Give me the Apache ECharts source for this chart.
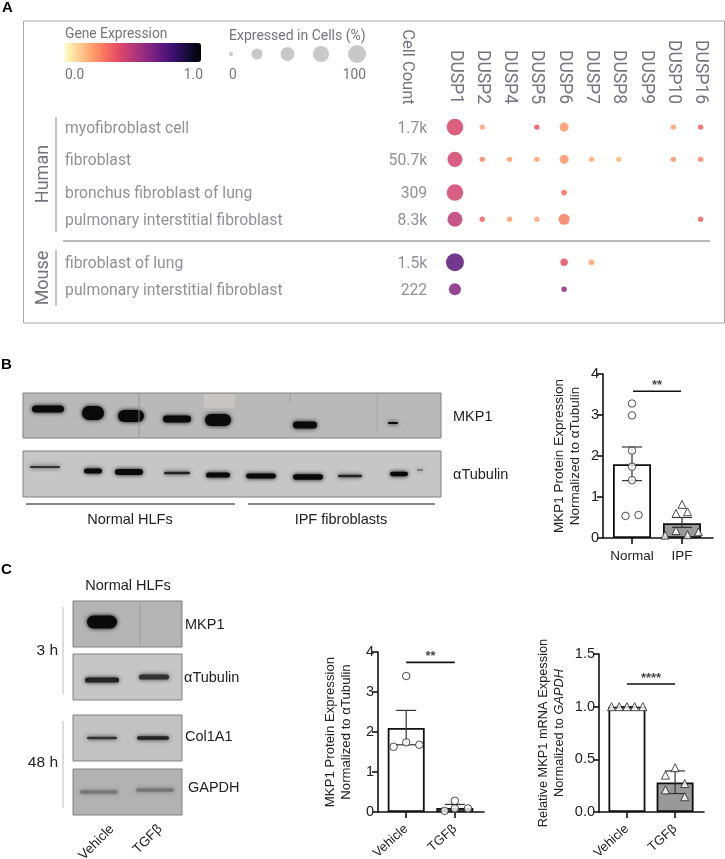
<!DOCTYPE html>
<html><head><meta charset="utf-8">
<style>html,body{margin:0;padding:0;background:#fff}#c{position:absolute;left:0;top:0;width:725px;height:859px}</style>
<script src="https://cdn.jsdelivr.net/npm/echarts@6/dist/echarts.min.js"></script></head>
<body><div id="c"></div>
<script>
// ---------- Panel A data ----------
const genes = ['DUSP1','DUSP2','DUSP4','DUSP5','DUSP6','DUSP7','DUSP8','DUSP9','DUSP10','DUSP16'];
const rowNames = ['myofibroblast cell','fibroblast','bronchus fibroblast of lung','pulmonary interstitial fibroblast','fibroblast of lung','pulmonary interstitial fibroblast'];
const cellCounts = ['1.7k','50.7k','309','8.3k','1.5k','222'];
const rowSlots = [0,1.05,2.13,3.0,4.4,5.28];
const expression = [
 [.42,.2,null,.37,.22,null,null,null,.2,.33],
 [.43,.25,.2,.2,.22,.18,.15,null,.22,.25],
 [.43,null,null,null,.3,null,null,null,null,null],
 [.48,.33,.2,.17,.27,null,null,null,null,.33],
 [.72,null,null,null,.38,.2,null,null,null,null],
 [.62,null,null,null,.6,null,null,null,null,null]];
const expressedPct = [
 [81,1,null,1,13,null,null,null,1,1],
 [62,1,1,1,13,1,1,null,1,1],
 [81,null,null,null,1.5,null,null,null,null,null],
 [62,1,1,1,25,null,null,null,null,1],
 [100,null,null,null,6,1.5,null,null,null,null],
 [33,null,null,null,1,null,null,null,null,null]];
const sizeLegendPct = [0,25,50,75,100];
const magma = ['#fcfdbf','#fecf92','#fe9f6d','#f7705c','#de4968','#b73779','#8c2981','#641a80','#3b0f70','#140e36','#000004'];

// ---------- Bar panels data ----------
const catsB = ['Normal','IPF'];
const meansB = [1.8,0.36];
const errLowB = [1.4,0.26];
const errHighB = [2.22,0.5];
const ptsNormalB = [[0,3.28],[0,2.99],[0,2.13],[0,1.74],[0,1.41],[-.13,.54],[.13,.56]];
const ptsIpfB = [[1,.82],[.88,.6],[1.11,.64],[.88,.18],[.66,.07],[1.11,.08],[1.33,.15]];
const catsC = ['Vehicle','TGFβ'];
const meansC1 = [2.1,0.1];
const errLowC1 = [1.68,0.03];
const errHighC1 = [2.54,0.19];
const ptsVehC1 = [[0,3.4],[0,1.74],[-.26,1.63],[.27,1.68]];
const ptsTgfC1 = [[1,.28],[1,.09],[.79,.03],[1.27,.09]];
const meansC2 = [1.0,0.28];
const errLowC2 = [1.0,0.175];
const errHighC2 = [1.0,0.39];
const ptsVehC2 = [[-.32,1],[-.16,1],[0,1],[.16,1],[.33,1]];
const ptsTgfC2 = [[1,.42],[.8,.35],[1.2,.27],[.8,.21],[1.2,.145]];

// ---------- helpers ----------
const sizeOf = p => 4 + 14*Math.sqrt(p/100);
const SANS = '"Liberation Sans", Arial, sans-serif';
const UI = 'Roboto, sans-serif';
const GREY = '#74747d';
const chart = echarts.init(document.getElementById('c'), null, {renderer:'canvas'});

const g = [];
const txt = (text,x,y,font,fill,align,rot) => g.push({type:'text',x,y,rotation:rot||0,z:10,
  style:{text,font,fill:fill||'#222',textAlign:align||'left',textVerticalAlign:'middle'}});
const ln = (x1,y1,x2,y2,stroke,w) => g.push({type:'line',z:5,shape:{x1,y1,x2,y2},style:{stroke,lineWidth:w||1}});
const blot = (x,y,w,h,fill) => g.push({type:'rect',z:1,shape:{x,y,width:w,height:h},style:{fill,stroke:'#808080',lineWidth:1}});
const band = (cx,cy,rx,ry,col) => g.push({type:'rect',z:2,shape:{x:cx-rx,y:cy-ry,width:2*rx,height:2*ry,r:Math.min(rx,ry*1.2)},
  style:{fill:col||'#0a0a0a',shadowBlur:4,shadowColor:col||'#0a0a0a'}});

// panel letters
txt('A',2,8,'bold 15px '+SANS,'#000');
txt('B',1,365,'bold 15px '+SANS,'#000');
txt('C',1,570,'bold 15px '+SANS,'#000');

// Panel A frame & furniture
g.push({type:'rect',z:0,shape:{x:23.5,y:21,width:701,height:302},style:{fill:'#fff',stroke:'#aaa',lineWidth:1}});
txt('Gene Expression',65,35,'13.8px '+UI,GREY);
txt('Expressed in Cells (%)',229,36,'14px '+UI,GREY);
txt('0.0',65,76,'13.8px '+UI,GREY);
txt('1.0',203,76,'13.8px '+UI,GREY,'right');
txt('0',229,76,'13.8px '+UI,GREY);
txt('100',366,76,'13.8px '+UI,GREY,'right');
[231,257,287.5,321,357].forEach((x,i)=>g.push({type:'circle',z:3,shape:{cx:x,cy:54,r:sizeOf(sizeLegendPct[i])/2},style:{fill:'#c8c8c8'}}));
txt('Cell Count',407,67,'16.5px '+UI,GREY,'center',-Math.PI/2);
txt('Human',43,174,'18px '+UI,GREY,'center',Math.PI/2);
txt('Mouse',43,278,'18px '+UI,GREY,'center',Math.PI/2);
ln(56,117,56,232,'#888',1); ln(56,250,56,306,'#888',1); ln(63,241,710,241,'#777',1);

// Panel B blots
blot(23,393,418,45,'#b9b9b9'); blot(23,451,418,46,'#c6c6c6');
g.push({type:'rect',z:1,shape:{x:204,y:394,width:31,height:14},style:{fill:'#c9c4c4'}});
ln(139,394,139,437,'#8a8a8a',.8); ln(377,396,377,432,'#a0a0a0',.8); ln(290,394,290,402,'#999',1);
[[48,409,16,3.6],[93,413,11,7],[131,416,13,6],[177,419,14,3.5],[218,420,13,6],[305,425,12,3.4],[393,423,5,1]].forEach(b=>band(...b));
[[45,467,15,.9,'#333'],[93,471,9,2.5],[129,472,14,3],[177,473,13,1.2,'#222'],[218,475,12,2.6],[261,476,15,2.4],[308,477,15,2.8],[350,476,12,1.2,'#222'],[399,474,9,2.2],[420,470,3,.6,'#444']].forEach(b=>band(...b));
ln(26,504,235,504,'#111',1); ln(248,504,435,504,'#111',1);
txt('Normal HLFs',130,520,'14.5px '+SANS,'#222','center');
txt('IPF fibroblasts',341,520,'14.5px '+SANS,'#222','center');
txt('MKP1',453,417,'14.5px '+SANS); txt('αTubulin',453,475,'14.5px '+SANS);

// Panel C blots
blot(73,601,109,46,'#b4b4b4'); blot(73,654,109,46,'#c6c6c6'); blot(73,715,109,46,'#c2c2c2'); blot(73,769,109,46,'#b2b2b2');
ln(140,602,140,646,'#999',.8);
band(102,622,15,6.5);
band(102,680,17,2.6,'#222'); band(154,677,15,2.6,'#333');
band(102,738,15,1.3,'#333'); band(153,738,16,1.8,'#222');
band(99,792,19,1.8,'#777'); band(155,790,19,1.8,'#777');
ln(63,607,63,694,'#bbb',1); ln(63,721,63,808,'#bbb',1);
txt('Normal HLFs',128,586,'14.5px '+SANS,'#222','center');
txt('3 h',58,651,'15.5px '+SANS,'#222','right'); txt('48 h',58,763,'15.5px '+SANS,'#222','right');
txt('MKP1',185,625,'14.5px '+SANS); txt('αTubulin',184,678,'14.5px '+SANS);
txt('Col1A1',185,737,'14.5px '+SANS); txt('GAPDH',188,788,'14.5px '+SANS);
txt('Vehicle',112,827,'13.5px '+SANS,'#222','right',Math.PI/4);
txt('TGFβ',160,827,'13.5px '+SANS,'#222','right',Math.PI/4);

// ---------- cartesian layout ----------
const grids=[{left:45.5,width:671.5,top:105,height:215,outerBoundsMode:'none'}];
const xAxes=[{type:'value',gridIndex:0,min:-15,max:9.6,position:'top',
  axisLine:{show:false},axisTick:{show:false},splitLine:{show:false},
  axisLabel:{customValues:genes.map((_,i)=>i),formatter:v=>genes[v]||'',rotate:-90,margin:1,color:GREY,fontSize:17.5,fontFamily:UI}}];
const yAxes=[{type:'value',gridIndex:0,min:-.72,max:6.28,inverse:true,show:false}];
const dots=[];
expression.forEach((r,i)=>r.forEach((v,j)=>{ if(v!=null) dots.push([j,rowSlots[i],v,expressedPct[i][j]]); }));
const ghost={color:'rgba(0,0,0,0)',borderWidth:0};
const series=[
 {type:'scatter',xAxisIndex:0,yAxisIndex:0,data:dots,symbolSize:d=>sizeOf(d[3]),encode:{x:0,y:1},itemStyle:{opacity:.86}},
 {type:'scatter',xAxisIndex:0,yAxisIndex:0,symbolSize:1,itemStyle:ghost,silent:true,
  data:rowNames.map((n,i)=>({value:[-14.3,rowSlots[i]],name:n})),
  label:{show:true,position:'right',distance:0,offset:[0,1.5],formatter:p=>p.name,color:GREY,fontFamily:UI,fontSize:15.7}},
 {type:'scatter',xAxisIndex:0,yAxisIndex:0,symbolSize:1,itemStyle:ghost,silent:true,
  data:cellCounts.map((n,i)=>({value:[-1,rowSlots[i]],name:n})),
  label:{show:true,position:'left',distance:0,offset:[0,1.5],formatter:p=>p.name,color:GREY,fontFamily:UI,fontSize:15.7}}
];

function barPanel(c){
  const gi=grids.length;
  grids.push({left:c.left,width:c.width,top:c.top,height:c.height,outerBoundsMode:'none'});
  xAxes.push({type:'value',gridIndex:gi,min:c.xmin,max:c.xmax,splitLine:{show:false},
    axisLine:{onZero:false,lineStyle:{color:'#111',width:1.6}},
    axisTick:{customValues:[0,1],length:6,lineStyle:{color:'#111',width:1.6}},
    axisLabel:{customValues:[0,1],formatter:v=>c.cats[v],rotate:c.rotate||0,margin:c.rotate?15:11,color:'#222',fontSize:c.rotate?13:13.5,fontFamily:SANS,hideOverlap:false,showMinLabel:true,showMaxLabel:true}});
  yAxes.push({type:'value',gridIndex:gi,min:0,max:c.ymax,interval:c.step,splitLine:{show:false},
    name:c.title,nameLocation:'middle',nameRotate:90,nameGap:c.gap,
    nameTextStyle:c.rich?{rich:c.rich,lineHeight:16}:{color:'#222',fontSize:c.fs||13.5,fontFamily:SANS,lineHeight:16},
    axisLine:{show:true,onZero:false,lineStyle:{color:'#111',width:1.6}},
    axisTick:{show:true,length:6,lineStyle:{color:'#111',width:1.6}},
    axisLabel:{margin:4,color:'#222',fontSize:14.5,fontFamily:SANS,formatter:c.fmt||(v=>String(v))}});
  series.push({type:'bar',xAxisIndex:gi,yAxisIndex:gi,barWidth:c.barW,z:2,
    data:c.means.map((m,i)=>({value:[i,m],itemStyle:{color:i?'#999':'#fff',borderColor:'#111',borderWidth:1.8}}))});
  series.push({type:'custom',xAxisIndex:gi,yAxisIndex:gi,z:3,silent:true,
    data:c.means.map((_,i)=>[i,c.lo[i],c.hi[i]]),
    encode:{x:0,y:[1,2]},
    renderItem:(p,api)=>{
      const x=api.value(0),a=api.coord([x,api.value(1)]),b=api.coord([x,api.value(2)]);
      const s={stroke:'#333',lineWidth:1.2,fill:null},h=10;
      return {type:'group',children:[
        {type:'line',shape:{x1:a[0],y1:a[1],x2:b[0],y2:b[1]},style:s},
        {type:'line',shape:{x1:a[0]-h,y1:a[1],x2:a[0]+h,y2:a[1]},style:s},
        {type:'line',shape:{x1:b[0]-h,y1:b[1],x2:b[0]+h,y2:b[1]},style:s}]};
    }});
  c.pts.forEach(([data,sym])=>series.push({type:'scatter',xAxisIndex:gi,yAxisIndex:gi,z:4,data,symbol:sym,
    symbolSize:sym==='triangle'?8:7.5,clip:false,itemStyle:{color:'#fff',borderColor:'#222',borderWidth:1}}));
  series.push({type:'line',xAxisIndex:gi,yAxisIndex:gi,z:4,symbol:'none',silent:true,
    data:[[c.sigX[0],c.sigY],[c.sigX[1],c.sigY]],lineStyle:{color:'#111',width:1.6}});
  series.push({type:'scatter',xAxisIndex:gi,yAxisIndex:gi,z:4,symbolSize:1,itemStyle:ghost,silent:true,
    data:[[(c.sigX[0]+c.sigX[1])/2,c.sigY]],
    label:{show:true,position:'top',distance:-1,formatter:c.stars,color:'#111',fontFamily:SANS,fontWeight:'bold',fontSize:13}});
}
barPanel({left:603,width:110,top:374,height:164,xmin:-.58,xmax:1.62,ymax:4,step:1,barW:38,cats:catsB,
  title:'MKP1 Protein Expression\nNormalized to αTubulin',gap:20,means:meansB,lo:errLowB,hi:errHighB,
  pts:[[ptsNormalB,'circle'],[ptsIpfB,'triangle']],sigX:[.02,.98],sigY:3.58,stars:'**'});
barPanel({left:378,width:106,top:652,height:160,xmin:-.58,xmax:1.6,ymax:4,step:1,barW:37,cats:catsC,rotate:42,fs:13.2,
  title:'MKP1 Protein Expression\nNormalized to αTubulin',gap:24,means:meansC1,lo:errLowC1,hi:errHighC1,
  pts:[[ptsVehC1,'circle'],[ptsTgfC1,'circle']],sigX:[0,1],sigY:3.74,stars:'**'});
barPanel({left:599,width:105,top:654,height:158,xmin:-.58,xmax:1.6,ymax:1.5,step:.5,barW:37,cats:catsC,rotate:42,
  fmt:v=>v.toFixed(1),
  title:'{a|Relative MKP1 mRNA Expession}\n{a|Normalized to }{i|GAPDH}',gap:32,
  rich:{a:{color:'#222',fontSize:12.8,fontFamily:SANS,lineHeight:16},i:{color:'#222',fontSize:12.8,fontFamily:SANS,fontStyle:'italic',lineHeight:16}},
  means:meansC2,lo:errLowC2,hi:errHighC2,
  pts:[[ptsVehC2,'triangle'],[ptsTgfC2,'triangle']],sigX:[0,1],sigY:1.215,stars:'****'});

chart.setOption({
  animation:false,backgroundColor:'#fff',
  visualMap:{type:'continuous',seriesIndex:0,dimension:2,min:0,max:1,orient:'horizontal',left:65,top:43,
    itemHeight:136,itemWidth:19,calculable:false,realtime:false,text:['',''],padding:0,hoverLink:false,inRange:{color:magma}},
  graphic:{elements:g},grid:grids,xAxis:xAxes,yAxis:yAxes,series
});
</script></body></html>
